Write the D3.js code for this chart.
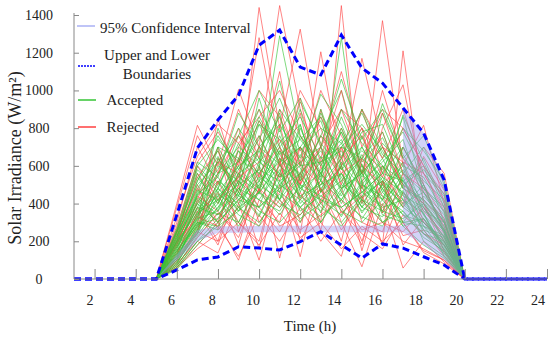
<!DOCTYPE html>
<html><head><meta charset="utf-8">
<script src="https://cdn.jsdelivr.net/npm/d3@7/dist/d3.min.js"></script>
<style>
body{margin:0;background:#fff}
svg{display:block}
</style>
</head><body><svg id="c" width="550" height="338"></svg>
<script>
// ---------------- DATA ----------------
const hours = [1,2,3,4,5,6,7,8,9,10,11,12,13,14,15,16,17,18,19,20,21,22,23,24];
const xTickLabels = [2,4,6,8,10,12,14,16,18,20,22,24];
const yTickLabels = [0,200,400,600,800,1000,1200,1400];

const upperBoundary = [0,0,0,0,0,340,695,843,975,1240,1320,1124,1082,1294,1119,1039,907,774,525,0,0,0,0,0];
const lowerBoundary = [0,0,0,0,0,48,101,117,171,164,154,198,251,180,111,186,164,118,74,0,0,0,0,0];

const ciHours = [5,6,7,8,9,10,11,12,13,14,15,16,17,17,18,19,20];
const ciLow   = [0,100,200,245,245,248,248,248,248,248,248,248,248,248,180,100,0];
const ciHigh  = [0,130,260,280,280,282,282,282,282,282,282,282,282,900,775,525,0];

// sample days: hours 5..20 (sunrise 0 ... sunset 0)
const dayHours = [5,6,7,8,9,10,11,12,13,14,15,16,17,18,19,20];
const accepted = [
 [120,310,450,380,620,540,700,480,590,430,520,380,300,180],
 [200,420,300,560,480,760,520,650,400,610,350,470,260,220],
 [90,250,520,440,700,610,430,580,720,500,640,420,350,150],
 [160,380,600,520,380,680,590,350,620,480,390,560,410,260],
 [250,540,400,680,560,420,760,610,480,700,520,300,440,320],
 [70,220,350,300,520,880,460,700,540,380,600,450,200,120],
 [180,460,700,500,820,620,900,520,780,560,420,620,380,250],
 [130,300,280,460,340,560,380,480,330,520,300,400,280,140],
 [220,600,480,760,620,1050,600,880,650,800,560,700,480,380],
 [100,350,560,620,900,700,540,760,1000,620,750,520,600,300],
 [260,480,650,420,560,480,820,460,560,420,880,640,520,420],
 [150,280,400,600,450,640,480,560,440,660,480,340,240,200],
 [60,200,320,520,700,500,620,400,560,350,500,280,180,110],
 [210,520,760,580,740,960,680,800,720,880,640,780,560,440],
 [110,330,480,720,520,620,700,560,860,600,480,600,340,230],
 [170,400,520,360,600,420,560,680,480,560,700,480,420,280],
 [240,560,360,640,820,740,480,620,740,460,560,860,460,340],
 [80,260,640,480,580,1290,760,540,900,720,600,520,380,200],
 [190,440,580,800,640,560,940,720,580,780,820,560,700,480],
 [140,360,440,540,460,800,400,520,1280,500,420,700,500,260],
 [230,500,620,460,960,600,700,840,520,640,540,460,320,160],
 [50,180,300,420,380,480,560,420,380,460,380,420,260,130],
 [270,620,540,880,700,820,640,980,820,560,930,660,480,360],
 [120,290,700,640,560,720,860,640,700,820,680,480,640,400],
 [200,470,420,580,760,540,620,700,460,760,460,580,360,300],
 [90,240,480,360,500,680,440,500,640,400,540,380,500,240],
 [160,410,560,700,600,900,740,600,780,520,620,740,420,310],
 [250,580,460,600,680,460,800,560,700,640,780,500,580,450],
 [110,320,800,540,840,640,560,900,600,700,500,870,620,380],
 [180,380,340,480,420,580,360,440,520,360,460,340,300,180],
 [140,450,620,760,1000,780,960,700,1060,740,900,640,760,500],
 [70,230,380,560,640,420,660,520,420,580,420,520,340,170],
 [220,520,680,440,680,860,520,760,640,900,660,560,460,270],
 [130,340,500,680,480,700,820,460,800,540,720,600,540,350],
 [260,600,740,620,860,660,740,860,580,680,580,800,680,520],
 [100,270,420,500,580,520,600,620,680,480,600,440,380,220],
 [150,300,260,380,300,450,320,400,280,420,300,360,220,150],
 [200,350,420,280,460,340,500,300,460,320,480,300,280,200],
 [110,260,380,480,360,300,420,520,360,300,420,280,320,180],
 [230,400,300,420,520,400,340,460,600,380,330,500,240,140],
 [80,280,460,340,280,520,380,300,480,560,360,320,400,260],
 [170,320,360,520,420,360,540,380,300,440,520,420,300,210],
 [130,240,440,300,500,420,300,560,420,330,280,460,350,120],
 [250,430,340,460,330,560,440,360,500,420,360,540,280,230],
 [60,200,280,360,460,380,480,420,340,500,440,360,240,160],
 [190,370,480,400,540,460,380,500,560,380,500,400,460,300],
 [120,290,320,440,380,500,420,330,420,600,340,300,320,190],
 [210,450,540,380,460,600,500,440,380,460,560,520,400,250]
];
const rejected = [
 [400,815,600,1005,700,1450,900,620,800,560,700,500,400,200],
 [150,300,850,500,1440,800,1325,700,900,600,500,620,300,180],
 [80,200,138,400,100,500,118,600,300,65,400,58,200,90],
 [250,560,400,620,1280,700,500,1205,600,1170,700,500,420,300],
 [120,420,700,250,600,111,560,300,1450,400,800,1030,500,250],
 [300,700,500,800,460,900,600,500,700,480,1370,600,815,400],
 [60,180,300,100,420,300,700,250,120,500,180,1210,400,150],
 [200,500,260,700,900,600,1000,800,500,900,560,400,700,560],
 [100,260,520,300,200,620,240,900,480,200,520,300,140,80],
 [380,760,560,900,640,1100,500,700,1100,700,900,800,600,450],
 [170,380,200,560,380,250,460,260,700,300,250,560,360,240],
 [90,240,640,460,760,520,880,400,600,800,350,700,500,320],
 [280,620,780,600,1000,860,620,1000,760,560,1000,640,460,300],
 [140,340,460,180,560,700,300,480,200,640,440,230,260,120],
 [220,480,300,640,300,460,700,560,380,180,600,380,650,470],
 [60,160,240,380,280,420,260,340,420,260,300,200,160,100],
 [330,650,820,720,860,1000,760,600,900,800,640,900,560,380],
 [180,440,360,220,480,380,560,700,350,440,180,460,300,200],
 [110,280,560,760,540,820,420,640,1000,560,780,480,400,260],
 [240,540,680,400,700,540,960,460,640,900,700,620,560,360],
 [130,360,180,500,160,640,200,420,600,150,520,180,320,140],
 [200,400,620,560,840,660,500,760,560,640,880,560,480,280],
 [100,250,200,300,180,350,220,300,160,280,200,300,150,100],
 [190,330,280,120,340,200,380,200,360,240,160,340,240,180],
 [70,220,350,250,480,280,340,480,260,420,300,250,380,220],
 [260,600,420,540,620,740,600,860,640,760,540,800,600,420]
];

const legendLabels = ["95% Confidence Interval","Upper and Lower","Boundaries","Accepted","Rejected"];

// ---------------- CHART ----------------
const FONT = '"Liberation Serif"';
const svg = d3.select("#c");
const x = d3.scaleLinear().domain([1,24]).range([74,547]);
const y = d3.scaleLinear().domain([0,1400]).range([279,15]);
const xLab = d3.scaleLinear().domain([2,24]).range([90,538]);

const GREEN = "#35c435", RED = "#ff4040", BLUE = "#0000ff", TXT = "#222";

const line = d3.line().x(d=>x(d[0])).y(d=>y(d[1]));
const toDay = v => dayHours.map((h,i)=>[h, (i===0||i===dayHours.length-1)?0:v[i-1]]);

// interleave rejected and accepted series
const series = [];
const n = Math.max(accepted.length, rejected.length);
for (let i=0;i<n;i++){
  if (i<rejected.length) series.push({v:rejected[i], c:RED});
  if (i<accepted.length) series.push({v:accepted[i], c:GREEN});
}
svg.append("g").selectAll("path").data(series).join("path")
  .attr("d", d=>line(toDay(d.v)))
  .attr("fill","none").attr("stroke",d=>d.c)
  .attr("stroke-width",0.75).attr("stroke-opacity",0.85);

// confidence interval band
const area = d3.area().x(d=>x(d[0])).y0(d=>y(d[1])).y1(d=>y(d[2]));
svg.append("path")
  .attr("d", area(ciHours.map((h,i)=>[h,ciLow[i],ciHigh[i]])))
  .attr("fill","#9e9ef0").attr("fill-opacity",0.45);

// boundaries
[upperBoundary, lowerBoundary].forEach(arr=>{
  svg.append("path")
    .attr("d", line(hours.map((h,i)=>[h,arr[i]])))
    .attr("fill","none").attr("stroke",BLUE).attr("stroke-width",3)
    .attr("stroke-dasharray","7,4");
});

// axes
const axisColor = "#888";
const gx = svg.append("g").attr("transform","translate(0,279)")
  .call(d3.axisBottom(x).tickValues(xTickLabels).tickSize(-10).tickFormat(""));
gx.select(".domain").attr("stroke",axisColor).attr("d","M74,0H547");
gx.selectAll(".tick line").attr("stroke",axisColor);
svg.append("g").selectAll("text").data(xTickLabels).join("text")
  .attr("x",d=>xLab(d)).attr("y",305).attr("text-anchor","middle")
  .attr("font-size",14).attr("fill",TXT).style("font-family",FONT).text(d=>d);

const gy = svg.append("g").attr("transform","translate(74,0)")
  .call(d3.axisLeft(y).tickValues(yTickLabels).tickSize(-5).tickFormat(""));
gy.select(".domain").attr("stroke",axisColor).attr("d","M0,13V279");
gy.selectAll(".tick line").attr("stroke",axisColor);
svg.append("g").selectAll("text").data(yTickLabels).join("text")
  .attr("x",39).attr("y",d=>y(d)+5).attr("text-anchor","middle")
  .attr("font-size",14).attr("fill",TXT).style("font-family",FONT).text(d=>d);

svg.append("text").attr("x",310).attr("y",331).attr("text-anchor","middle")
  .attr("font-size",15).attr("fill",TXT).style("font-family",FONT).text("Time (h)");
svg.append("text").attr("transform","translate(21,158) rotate(-90)")
  .attr("text-anchor","middle").attr("font-size",18).attr("fill",TXT).style("font-family",FONT)
  .text("Solar Irradiance (W/m²)");

// legend
const lg = svg.append("g");
lg.append("line").attr("x1",77).attr("x2",95).attr("y1",26).attr("y2",26)
  .attr("stroke","#aab0f5").attr("stroke-width",1.5);
lg.append("line").attr("x1",78).attr("x2",95).attr("y1",66).attr("y2",66)
  .attr("stroke",BLUE).attr("stroke-width",1.5).attr("stroke-dasharray","2,1");
lg.append("line").attr("x1",78).attr("x2",96).attr("y1",100).attr("y2",100)
  .attr("stroke",GREEN).attr("stroke-width",1.5);
lg.append("line").attr("x1",78).attr("x2",96).attr("y1",127).attr("y2",127)
  .attr("stroke",RED).attr("stroke-width",1.5);
const legendPos = [[100,33,"start"],[157,60,"middle"],[157,79,"middle"],[106.5,105,"start"],[106.5,132,"start"]];
lg.selectAll("text").data(legendLabels).join("text")
  .attr("x",(d,i)=>legendPos[i][0]).attr("y",(d,i)=>legendPos[i][1])
  .attr("text-anchor",(d,i)=>legendPos[i][2])
  .attr("font-size",15).attr("fill",TXT).style("font-family",FONT).text(d=>d);
</script>
</body></html>
